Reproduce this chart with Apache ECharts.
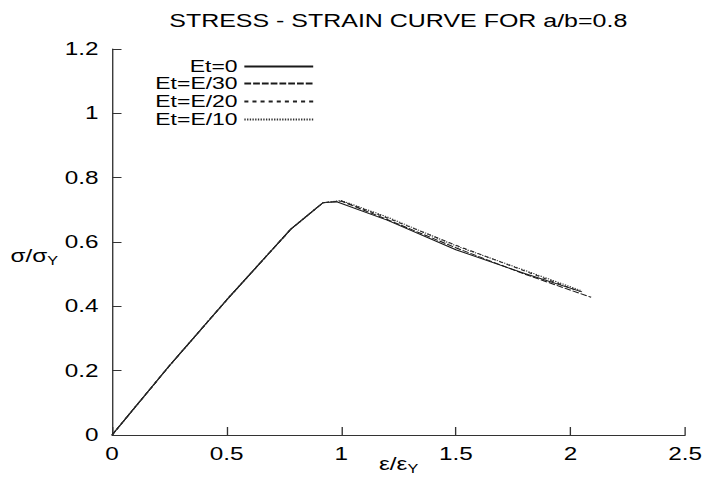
<!DOCTYPE html>
<html><head><meta charset="utf-8">
<script src="https://cdn.jsdelivr.net/npm/echarts@6/dist/echarts.min.js"></script>
<style>
html,body{margin:0;padding:0;background:#fff;overflow:hidden;width:710px;height:493px}
#c{width:526px;height:493px;transform:scaleX(1.35);transform-origin:0 0}
</style>
</head><body><div id="c"></div>
<script>
// Shared loading branch (all cases)
const xRise = [0, 0.25, 0.5, 0.78, 0.92];
const yRise = [0, 0.215, 0.42, 0.64, 0.722];
// Post-peak branches
const xEt0 = [0.98, 1.2, 1.5, 1.8, 2.05];
const yEt0 = [0.725, 0.668, 0.576, 0.502, 0.445];
const xE30 = [1.0, 1.2, 1.5, 1.8, 2.09];
const yE30 = [0.727, 0.67, 0.582, 0.5, 0.428];
const xE20 = [1.0, 1.2, 1.5, 1.8, 2.04];
const yE20 = [0.728, 0.675, 0.59, 0.51, 0.446];
const xE10 = [1.0, 1.2, 1.5, 1.8, 2.05];
const yE10 = [0.729, 0.678, 0.588, 0.512, 0.448];
const seriesNames = ['Et=0', 'Et=E/30', 'Et=E/20', 'Et=E/10'];
const xTicks = [0, 0.5, 1, 1.5, 2, 2.5];
const yTicks = [0, 0.2, 0.4, 0.6, 0.8, 1, 1.2];

function build(xs, ys) {
  const pts = xRise.map((x, i) => [x, yRise[i]]);
  xs.forEach((x, i) => pts.push([x, ys[i]]));
  return pts;
}
const datasets = [build(xEt0, yEt0), build(xE30, yE30), build(xE20, yE20), build(xE10, yE10)];
const styles = [
  {type: 'solid', color: '#1a1a1a'},
  {type: [5, 1.5], color: '#1a1a1a'},
  {type: [3, 3], color: '#222'},
  {type: [1, 1], color: '#333'}
];
const font = 'Liberation Sans, Arial, sans-serif';
const legendTops = [58, 75, 93, 111];
const chart = echarts.init(document.getElementById('c'), null, {renderer: 'svg', width: 526, height: 493});
chart.setOption({
  animation: false,
  backgroundColor: '#fff',
  title: {
    text: 'STRESS - STRAIN CURVE FOR a/b=0.8',
    left: 295, top: 11, textAlign: 'center', padding: 0,
    textStyle: {fontFamily: font, fontSize: 18.5, fontWeight: 'normal', color: '#000'}
  },
  legend: seriesNames.map((n, i) => ({
    data: [n], orient: 'horizontal', align: 'right', right: 293, top: legendTops[i],
    padding: 0, itemWidth: 51, itemHeight: 14, itemGap: 0, selectedMode: false,
    itemStyle: {opacity: 0},
    textStyle: {fontFamily: font, fontSize: 17, lineHeight: 15, color: '#000'}
  })),
  grid: {left: 83, right: 18.5, top: 49, bottom: 58},
  xAxis: {
    type: 'value', min: 0, max: 2.5, interval: 0.5,
    name: 'ε/ε{s|Y}', nameLocation: 'middle', nameGap: 19, nameMoveOverlap: false,
    nameTextStyle: {fontFamily: font, fontSize: 18, color: '#000', rich: {s: {fontSize: 12, verticalAlign: 'bottom', padding: [9, 0, 0, 0], fontFamily: font}}},
    axisLine: {lineStyle: {color: '#333', width: 1}},
    axisTick: {inside: true, length: 8, lineStyle: {color: '#333'}},
    axisLabel: {fontFamily: font, fontSize: 18, color: '#000', margin: 10},
    splitLine: {show: false}
  },
  yAxis: {
    type: 'value', min: 0, max: 1.2, interval: 0.2,
    name: 'σ/σ{s|Y}', nameLocation: 'middle', nameGap: 40, nameRotate: 0, nameMoveOverlap: false,
    nameTextStyle: {fontFamily: font, fontSize: 18, color: '#000', padding: [28, 0, 0, 0], rich: {s: {fontSize: 12, verticalAlign: 'bottom', padding: [9, 0, 0, 0], fontFamily: font}}},
    axisLine: {show: true, lineStyle: {color: '#333', width: 1}},
    axisTick: {show: true, inside: true, length: 7, lineStyle: {color: '#333'}},
    axisLabel: {fontFamily: font, fontSize: 18, color: '#000', margin: 10},
    splitLine: {show: false}
  },
  series: datasets.map((d, i) => ({
    name: seriesNames[i], type: 'line', data: d, showSymbol: false, symbol: 'none',
    lineStyle: {width: 1, type: styles[i].type, color: styles[i].color},
    itemStyle: {color: styles[i].color}
  }))
});
</script></body></html>
